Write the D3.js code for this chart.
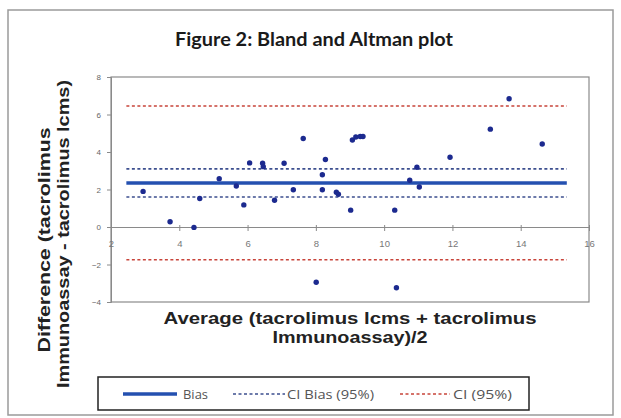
<!DOCTYPE html>
<html><head><meta charset="utf-8">
<script src="https://cdn.jsdelivr.net/npm/d3@7"></script>
<style>body{margin:0;background:#fff}svg{display:block}</style>
</head><body>
<script>
const avgValues = [2.94,3.73,4.43,4.6,5.17,5.67,5.89,6.06,6.44,6.46,6.79,7.07,7.34,7.63,8.01,8.19,8.19,8.28,8.6,8.66,9.02,9.07,9.17,9.3,9.38,10.31,10.36,10.75,10.96,11.03,11.93,13.11,13.66,14.63];
const diffValues = [1.9,0.28,-0.02,1.52,2.58,2.19,1.18,3.42,3.4,3.22,1.43,3.4,1.99,4.72,-2.95,2.79,1.99,3.6,1.85,1.75,0.9,4.64,4.8,4.83,4.83,0.9,-3.24,2.49,3.19,2.13,3.72,5.22,6.84,4.43];
const refNames = ["Bias","CI Bias (95%)","CI (95%)"];
const refLevels = [[2.35],[3.1,1.6],[6.45,-1.75]];
const refRange = [2.45,15.35];
const xTicks = [2,4,6,8,10,12,14,16];
const yTicks = [-4,-2,0,2,4,6,8];

const W=621,H=418;
const svg=d3.select("body").append("svg").attr("width",W).attr("height",H);
svg.append("rect").attr("x",8).attr("y",10).attr("width",605).attr("height",405)
  .attr("fill","#fff").attr("stroke","#9a9a9a").attr("stroke-width",1.5);

const L=111,R=589,T=77,B=302;
const x=d3.scaleLinear().domain([2,16]).range([L,R]);
const y=d3.scaleLinear().domain([-4,8]).range([B,T]);

svg.append("text").attr("x",314).attr("y",46).attr("text-anchor","middle")
  .attr("font-family","Lato, 'Open Sans', sans-serif").attr("font-weight","bold")
  .attr("font-size",18.5).attr("fill","#1a1a1a")
  .attr("textLength",278).attr("lengthAdjust","spacingAndGlyphs")
  .text("Figure 2: Bland and Altman plot");

svg.append("rect").attr("x",L).attr("y",T).attr("width",R-L).attr("height",B-T)
  .attr("fill","none").attr("stroke","#8a8a8a").attr("stroke-width",1.2);

// y axis
const yAxis=svg.append("g").attr("transform",`translate(${L},0)`)
  .call(d3.axisLeft(y).tickValues(yTicks).tickSize(4).tickFormat(d3.format("d")));
yAxis.select(".domain").attr("stroke","#8a8a8a");
yAxis.selectAll(".tick line").attr("stroke","#8a8a8a");
yAxis.selectAll("text").attr("font-family","Liberation Sans, Arial, sans-serif").attr("font-size",8).attr("fill","#666").attr("x",-10);

// x axis at y=0
const xAxis=svg.append("g").attr("transform",`translate(0,${y(0)})`)
  .call(d3.axisBottom(x).tickValues(xTicks).tickSize(4).tickFormat(d3.format("d")));
xAxis.select(".domain").attr("stroke","#8a8a8a");
xAxis.selectAll(".tick line").attr("stroke","#8a8a8a").attr("y1",-2);
xAxis.selectAll("text").attr("font-family","Liberation Sans, Arial, sans-serif").attr("font-size",9.5).attr("fill","#777").attr("y",13);

// reference lines
const styles=[{c:"#2450b0",w:3.5,d:null},{c:"#3d4f8f",w:1.6,d:"3,2.5"},{c:"#c8443a",w:1.6,d:"3,2.5"}];
refLevels.forEach((lv,i)=>{
  lv.forEach(v=>{
    svg.append("line").attr("x1",x(refRange[0])).attr("x2",x(refRange[1]))
      .attr("y1",y(v)).attr("y2",y(v)).attr("stroke",styles[i].c)
      .attr("stroke-width",styles[i].w).attr("stroke-dasharray",styles[i].d);
  });
});

// points
svg.append("g").selectAll("circle").data(avgValues).join("circle")
  .attr("cx",d=>x(d)).attr("cy",(d,i)=>y(diffValues[i])).attr("r",2.7).attr("fill","#1c2a8f");

// axis titles
const tf="Liberation Sans, Arial, sans-serif";
const xt=svg.append("text").attr("text-anchor","middle").attr("font-family",tf)
  .attr("font-weight","bold").attr("font-size",16).attr("fill","#222");
xt.append("tspan").attr("x",350).attr("y",323.5).attr("textLength",373).attr("lengthAdjust","spacingAndGlyphs")
  .text("Average (tacrolimus lcms + tacrolimus");
xt.append("tspan").attr("x",350).attr("y",342.5).attr("textLength",155).attr("lengthAdjust","spacingAndGlyphs")
  .text("Immunoassay)/2");

const yt=svg.append("text").attr("text-anchor","middle").attr("font-family",tf)
  .attr("font-weight","bold").attr("font-size",16).attr("fill","#222")
  .attr("transform","rotate(-90)");
yt.append("tspan").attr("x",-240).attr("y",49.5).attr("textLength",225).attr("lengthAdjust","spacingAndGlyphs")
  .text("Difference (tacrolimus");
yt.append("tspan").attr("x",-234).attr("y",68.5).attr("textLength",308).attr("lengthAdjust","spacingAndGlyphs")
  .text("Immunoassay - tacrolimus lcms)");

// legend
svg.append("rect").attr("x",98).attr("y",377).attr("width",431).attr("height",33)
  .attr("fill","#fff").attr("stroke","#222").attr("stroke-width",1.5);
const legX=[[123,177,183,25],[233,285,287,87],[400,450,453,59]];
refNames.forEach((n,i)=>{
  svg.append("line").attr("x1",legX[i][0]).attr("x2",legX[i][1]).attr("y1",394).attr("y2",394)
    .attr("stroke",styles[i].c).attr("stroke-width",i===0?3.5:1.3).attr("stroke-dasharray",styles[i].d);
  svg.append("text").attr("x",legX[i][2]).attr("y",399).attr("font-family","Liberation Sans Narrow, 'Open Sans', sans-serif")
    .attr("font-size",13.5).attr("fill","#555")
    .attr("textLength",legX[i][3]).attr("lengthAdjust","spacingAndGlyphs").text(n);
});
</script>
</body></html>
